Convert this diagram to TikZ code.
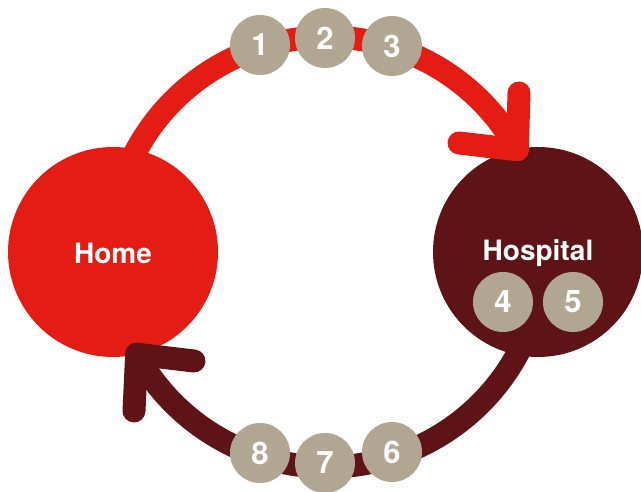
\documentclass[tikz,border=0pt]{standalone}
\usepackage{fontspec}
\setmainfont{TeX Gyre Heros}
\usetikzlibrary{calc}
\definecolor{homered}{RGB}{228,28,20}
\definecolor{hospred}{RGB}{94,20,22}
\definecolor{tan}{RGB}{176,166,146}
\begin{document}
\begin{tikzpicture}[x=1pt,y=1pt,
  bigcirc/.style={circle, minimum size=210pt, inner sep=0pt, text=white, font=\fontsize{28}{30}\selectfont\bfseries},
  numcirc/.style={circle, fill=tan, minimum size=60pt, inner sep=0pt, text=white, font=\fontsize{31}{33}\selectfont\bfseries},
  flow/.style={line width=23pt, line cap=round, line join=round}]
\useasboundingbox (0,0) rectangle (641,491);
% main circles
\node[bigcirc, fill=homered] (home) at (113,239) {};
\node[bigcirc, fill=hospred] (hosp) at (538,239) {};
\node[text=white, font=\fontsize{28}{30}\selectfont\bfseries] (homelbl) at (113,238) {Home};
% top arc: home -> hospital
\coordinate (topc) at (327,237);
\coordinate (tops) at ($(topc)+(160:217)$);
\coordinate (toptip) at ($(topc)+(28.7:217)$);
\coordinate (topb1) at (519,398);
\coordinate (topb2) at (459,348);
% bottom arc: hospital -> home
\coordinate (botc) at (327,241);
\coordinate (bots) at ($(botc)+(-20:217)$);
\coordinate (bottip) at ($(botc)+(-151.3:217)$);
\coordinate (botb1) at (134,80);
\coordinate (botb2) at (194,130);
\draw[flow, homered] (tops) arc[start angle=160, end angle=28.7, radius=217];
\draw[flow, homered] (topb1) -- (toptip) -- (topb2);
\draw[flow, hospred] (bots) arc[start angle=-20, end angle=-151.3, radius=217];
\draw[flow, hospred] (botb1) -- (bottip) -- (botb2);
% hospital label
\node[text=white, font=\fontsize{28}{30}\selectfont\bfseries] (hosplbl) at (538,238) {Hospital};
% numbered circles
\node[numcirc] (n1) at (260,446) {1};
\node[numcirc] (n2) at (325,453) {2};
\node[numcirc] (n3) at (392,445) {3};
\node[numcirc] (n4) at (503,189) {4};
\node[numcirc] (n5) at (573,189) {5};
\node[numcirc] (n6) at (392,39) {6};
\node[numcirc] (n7) at (325,28) {7};
\node[numcirc] (n8) at (260,38) {8};
\end{tikzpicture}
\end{document}
